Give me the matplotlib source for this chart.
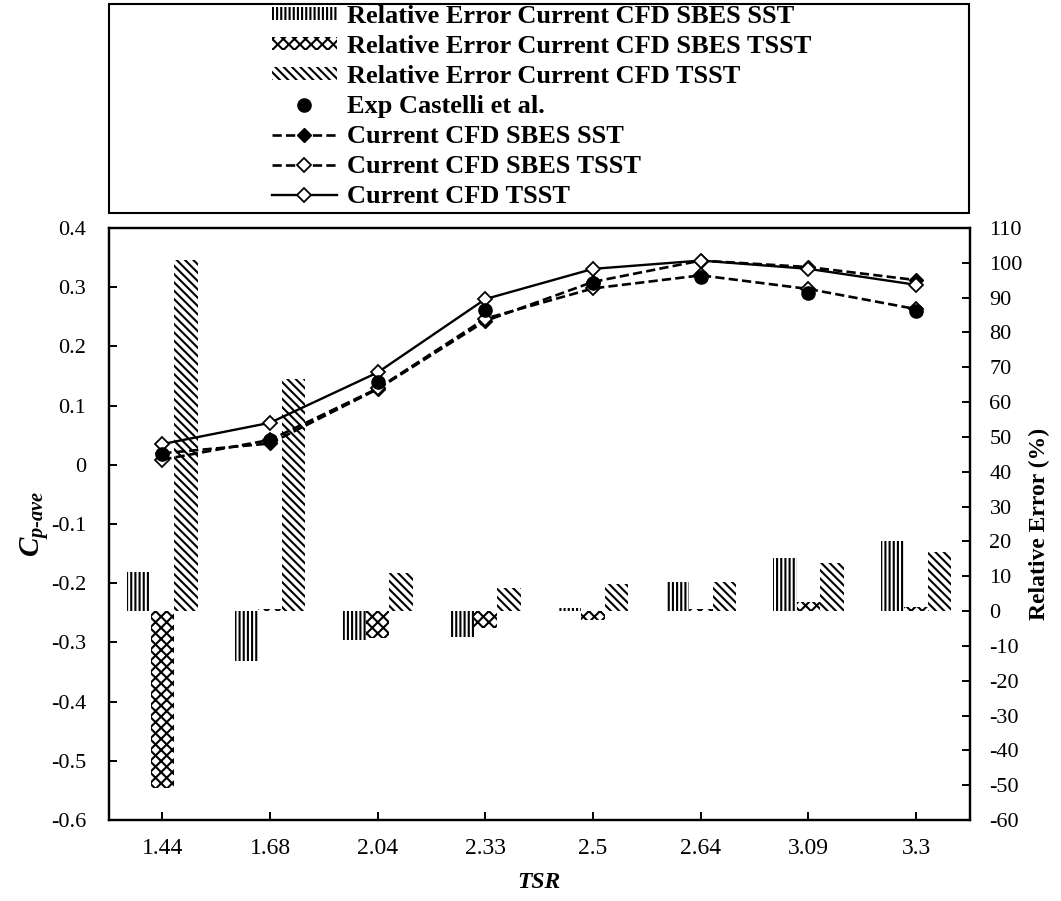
import numpy as np
import matplotlib
matplotlib.use("Agg")
import matplotlib.pyplot as plt
from matplotlib.patches import Rectangle

# Tip speed ratios (categories) and power coefficients
tsr_labels = ["1.44", "1.68", "2.04", "2.33", "2.5", "2.64", "3.09", "3.3"]
cp_exp = [0.0175, 0.042, 0.140, 0.261, 0.307, 0.318, 0.290, 0.260]
cp_sbes_sst = [0.0195, 0.036, 0.128, 0.243, 0.309, 0.345, 0.334, 0.312]
cp_sbes_tsst = [0.0087, 0.042, 0.129, 0.247, 0.298, 0.320, 0.297, 0.263]
cp_tsst = [0.035, 0.071, 0.156, 0.280, 0.331, 0.345, 0.331, 0.304]

# Relative errors against experiment (%)
re_sbes_sst = [11.1, -14.4, -8.3, -7.5, 0.8, 8.4, 15.1, 20.1]
re_sbes_tsst = [-50.9, 0.5, -7.6, -4.9, -2.6, 0.5, 2.6, 1.2]
re_tsst = [100.8, 66.6, 10.8, 6.5, 7.8, 8.4, 13.9, 17.1]

plt.rcParams["font.family"] = "serif"
plt.rcParams["font.serif"] = ["Liberation Serif", "DejaVu Serif"]
plt.rcParams["mathtext.fontset"] = "custom"
plt.rcParams["mathtext.it"] = "Liberation Serif:italic:bold"
plt.rcParams["mathtext.rm"] = "Liberation Serif:bold"
plt.rcParams["axes.unicode_minus"] = False
plt.rcParams["hatch.linewidth"] = 1.5

W, H = 1061, 901
fig = plt.figure(figsize=(W / 100, H / 100), dpi=100)
ax = fig.add_axes([108.5 / W, (H - 820) / H, (970 - 108.5) / W, (820 - 228) / H])
ax2 = ax.twinx()

x = np.arange(len(tsr_labels))
w = 0.218

b1 = ax2.bar(x - w, re_sbes_sst, w, color="white", edgecolor="black",
             hatch="||||", linewidth=0)
b2 = ax2.bar(x, re_sbes_tsst, w, color="white", edgecolor="black",
             hatch="xxx", linewidth=0)
b3 = ax2.bar(x + w, re_tsst, w, color="white", edgecolor="black",
             hatch="\\\\\\\\", linewidth=0)

ax.set_zorder(ax2.get_zorder() + 1)
ax.patch.set_visible(False)

dash = (3.5, 1.6)
l_sst, = ax.plot(x, cp_sbes_sst, color="black", lw=1.9, ls="--", dashes=dash,
                 marker="D", ms=7, mfc="black", mec="black", zorder=3)
l_sbtsst, = ax.plot(x, cp_sbes_tsst, color="black", lw=1.9, ls="--", dashes=dash,
                    marker="D", ms=7, mfc="white", mec="black", mew=1.3, zorder=3)
l_tsst, = ax.plot(x, cp_tsst, color="black", lw=1.7, ls="-",
                  marker="D", ms=7, mfc="white", mec="black", mew=1.3, zorder=4)
l_exp, = ax.plot(x, cp_exp, ls="none", marker="o", ms=9.5, color="black", zorder=5)

ax.set_xlim(-0.5, len(x) - 0.5)
ax.set_ylim(-0.6, 0.4)
cp_ticks = np.round(np.arange(-0.6, 0.41, 0.1), 1) + 0.0
ax.set_yticks(cp_ticks)
ax.set_yticklabels([f"{v:g}" for v in cp_ticks])
ax.set_xticks(x)
ax.set_xticklabels(tsr_labels)
ax2.set_ylim(-60, 110)
ax2.set_yticks(np.arange(-60, 111, 10))

for a in (ax, ax2):
    for s in a.spines.values():
        s.set_linewidth(1.6)
ax.tick_params(axis="y", direction="in", length=6, width=1.4, labelsize=16, pad=16)
ax.tick_params(axis="x", direction="in", length=6, width=1.4, labelsize=17, pad=13)
ax2.tick_params(axis="y", direction="in", length=6, width=1.4, labelsize=16, pad=14)

ax.set_ylabel(r"$C_{p\text{-}ave}$", fontsize=21, labelpad=0)
ax.set_xlabel("TSR", fontsize=17, fontweight="bold", fontstyle="italic", labelpad=9)
ax2.set_ylabel("Relative Error (%)", fontsize=17, fontweight="bold", labelpad=4)

# Legend in a framed box above the plot
fig.add_artist(Rectangle((109 / W, 1 - 213 / H), (969 - 109) / W, (213 - 4) / H,
                         transform=fig.transFigure, fill=False,
                         edgecolor="black", linewidth=1.5))
handles = [b1, b2, b3, l_exp, l_sst, l_sbtsst, l_tsst]
labels = ["Relative Error Current CFD SBES SST",
          "Relative Error Current CFD SBES TSST",
          "Relative Error Current CFD TSST",
          "Exp Castelli et al.",
          "Current CFD SBES SST",
          "Current CFD SBES TSST",
          "Current CFD TSST"]
fig.legend(handles, labels, loc="upper left", bbox_to_anchor=(272 / W, 1 - 5 / H),
           frameon=False, borderpad=0, borderaxespad=0,
           prop={"size": 19, "weight": "bold"}, handlelength=2.46,
           handleheight=0.4, handletextpad=0.38, labelspacing=0.265)

fig.savefig("out.png", dpi=100)
